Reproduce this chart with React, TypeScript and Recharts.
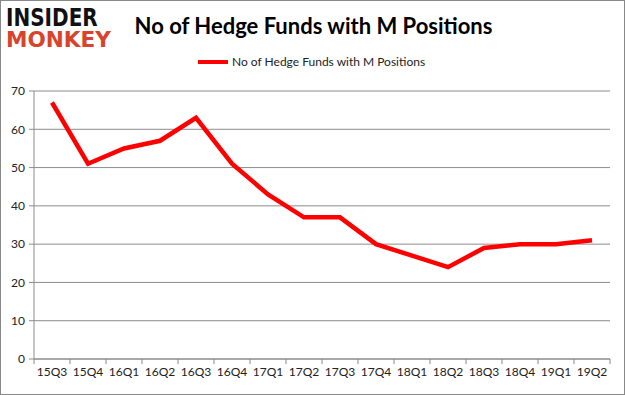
import React from 'react';
import { LineChart, Line, XAxis, YAxis, CartesianGrid } from 'recharts';

// quarterly hedge fund counts
const quarters = ['15Q3', '15Q4', '16Q1', '16Q2', '16Q3', '16Q4', '17Q1', '17Q2', '17Q3', '17Q4', '18Q1', '18Q2', '18Q3', '18Q4', '19Q1', '19Q2'];
const funds = [67, 51, 55, 57, 63, 51, 43, 37, 37, 30, 27, 24, 29, 30, 30, 31];
const yTicks = [0, 10, 20, 30, 40, 50, 60, 70];

const SERIES_NAME = 'No of Hedge Funds with M Positions';
const FONT = 'Lato, "Open Sans", sans-serif';

const data = quarters.map((q, i) => ({ quarter: q, value: funds[i] }));

// Excel-style: tick marks sit between categories, label centred
const BAND = (610 - 34) / quarters.length;

function QuarterTick(props: any) {
  const { x, y, payload, index } = props;
  return (
    <g>
      <line x1={x - BAND / 2} x2={x - BAND / 2} y1={y - 8} y2={y - 3} stroke="#888" />
      {index === quarters.length - 1 && (
        <line x1={x + BAND / 2} x2={x + BAND / 2} y1={y - 8} y2={y - 3} stroke="#888" />
      )}
      <text x={x} y={y + 9} textAnchor="middle" fontSize={12} fill="#222" fontFamily={FONT}>
        {payload.value}
      </text>
    </g>
  );
}

const logoText = { position: 'absolute' as const, left: 5, fontFamily: '"DejaVu Sans", sans-serif', fontWeight: 900, lineHeight: '20px', transformOrigin: 'left' };

export default function App() {
  return (
    <div
      style={{
        position: 'fixed',
        left: 0,
        top: 0,
        width: 625,
        height: 395,
        background: '#fff',
        border: '1px solid #888',
        boxSizing: 'border-box',
        overflow: 'hidden',
      }}
    >
      {/* logo */}
      <div style={{ ...logoText, top: 7, fontSize: 25, color: '#111', transform: 'scaleX(0.8)' }}>INSIDER</div>
      <div style={{ ...logoText, top: 29, fontSize: 22, color: '#d8432c', transform: 'scaleX(0.98)' }}>MONKEY</div>

      <div
        style={{
          position: 'absolute',
          left: 0,
          width: 625,
          top: 11,
          textAlign: 'center',
          fontFamily: FONT,
          fontWeight: 700,
          fontSize: 22,
          color: '#000',
        }}
      >
        No of Hedge Funds with M Positions
      </div>

      {/* legend */}
      <div style={{ position: 'absolute', left: 197, top: 53, display: 'flex', alignItems: 'center', fontFamily: FONT, fontSize: 12, color: '#222' }}>
        <div style={{ width: 30, height: 4, background: '#ff0000', marginRight: 4 }} />
        <span>{SERIES_NAME}</span>
      </div>

      <div style={{ position: 'absolute', left: -1, top: -1 }}>
        <LineChart width={625} height={395} data={data} margin={{ top: 91, right: 15, bottom: 6, left: 8 }}>
          <CartesianGrid vertical={false} stroke="#8c8c8c" />
          <XAxis
            dataKey="quarter"
            stroke="#8c8c8c"
            tickLine={false}
            tick={<QuarterTick />}
            interval={0}
            padding={{ left: BAND / 2, right: BAND / 2 }}
          />
          <YAxis
            width={26}
            domain={[0, 70]}
            ticks={yTicks}
            stroke="#8c8c8c"
            tickSize={5}
            tickMargin={4}
            tick={{ fontSize: 12, fill: '#222', fontFamily: FONT }}
          />
          <Line
            type="linear"
            dataKey="value"
            name={SERIES_NAME}
            stroke="#ff0000"
            strokeWidth={4.5}
            dot={false}
            isAnimationActive={false}
          />
        </LineChart>
      </div>
    </div>
  );
}
